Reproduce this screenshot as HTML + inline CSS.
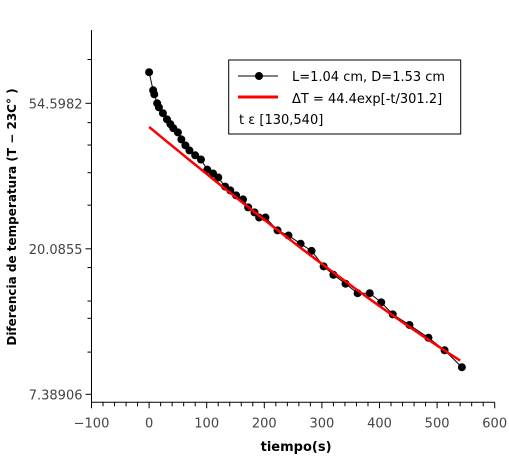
<!DOCTYPE html>
<html><head><meta charset="utf-8"><style>
body{margin:0;background:#fff}
svg text{font-family:"DejaVu Sans","Liberation Sans",sans-serif}
</style></head><body>
<svg id="c" width="509" height="457" xmlns="http://www.w3.org/2000/svg"></svg>
<script>
const times=[0,7,9,14,17,24,31,37,42,50,56,63,70,80,90,101,111,120,132,141,151,163,172,183,191,202,223,242,263,282,303,320,341,362,383,403,423,452,485,513,543];
const temps=[67.6,59.7,58.1,54.6,53.1,51.0,48.9,47.3,46.0,44.7,42.6,40.9,39.5,38.2,37.1,34.6,33.7,32.8,30.8,30.0,29.0,28.2,26.7,25.8,24.9,24.9,22.8,22.0,20.8,19.8,17.8,16.8,15.8,14.8,14.8,13.9,12.8,11.9,10.9,10.0,8.9];
const fitA=43.9, fitTau=290, fitC=2.5, fitRange=[0,540];
const xTicks=[-100,0,100,200,300,400,500,600];
const yTickLabels=["7.38906","20.0855","54.5982"];
const yTickLn=[2,3,4];
const yMinorLn=[4.301,3.867,3.713,3.523,3.30,2.871,2.641,2.522,2.290];

const svg=document.getElementById('c');
const NS='http://www.w3.org/2000/svg';
const L=91.5,R=494.7,T=30,B=402.3;
const X=t=>L+(t+100)*(R-L)/700;
const Y=v=>394.3-(Math.log(v)-2)*145.5;
const YL=l=>394.3-(l-2)*145.5;
function mk(tag,attrs,name,parent){const e=document.createElementNS(NS,tag);for(const k in attrs)e.setAttribute(k,attrs[k]);


(parent||svg).appendChild(e);return e;}
mk('line',{x1:L,y1:T,x2:L,y2:B,stroke:'#000','stroke-width':1},'y-axis');
mk('line',{x1:L,y1:B,x2:R,y2:B,stroke:'#000','stroke-width':1},'x-axis');
for(let t=-100;t<=600;t+=20){const big=(t%100===0);
mk('line',{x1:X(t),y1:B,x2:X(t),y2:B+(big?6:4),stroke:'#000'},'x-tick');}
xTicks.forEach(t=>{const tx=mk('text',{x:X(t),y:B+25,'text-anchor':'middle','font-size':13,fill:'#444'},'x-tick-label');tx.textContent=(t<0?'\u2212'+(-t):t);});
yTickLn.forEach((l,i)=>{mk('line',{x1:L-6,y1:YL(l),x2:L,y2:YL(l),stroke:'#000'},'y-tick');
const tx=mk('text',{x:L-9,y:YL(l)+5,'text-anchor':'end','font-size':13,fill:'#444'},'y-tick-label');tx.textContent=yTickLabels[i];});
yMinorLn.forEach(l=>mk('line',{x1:L-4,y1:YL(l),x2:L,y2:YL(l),stroke:'#000'},'y-minor-tick'));
const xt=mk('text',{x:(L+R)/2+3,y:451,'text-anchor':'middle','font-size':13,'font-weight':'bold'},'x-axis-title');xt.textContent='tiempo(s)';
const yt=mk('text',{x:0,y:0,'text-anchor':'middle','font-size':12,'font-weight':'bold',transform:'translate(16,217) rotate(-90)'},'y-axis-title');yt.textContent='Diferencia de temperatura (T \u2212 23C\u00b0 )';
mk('polyline',{points:times.map((t,i)=>X(t)+','+Y(temps[i])).join(' '),fill:'none',stroke:'#000','stroke-width':1},'data-line');
times.forEach((t,i)=>mk('circle',{cx:X(t),cy:Y(temps[i]),r:4,fill:'#000'},'data-point'));
const f=t=>fitA*Math.exp(-t/fitTau)+fitC;
const fp=[];for(let t=fitRange[0];t<=fitRange[1];t+=10)fp.push(X(t)+','+Y(f(t)));
mk('polyline',{points:fp.join(' '),fill:'none',stroke:'#f00','stroke-width':2.5},'fit-line');
const g=mk('g',{},'legend');
mk('rect',{x:228.7,y:60,width:232,height:74,fill:'#fff',stroke:'#000','stroke-width':1},'legend-box',g);
mk('line',{x1:238,y1:76,x2:278,y2:76,stroke:'#000'},'legend-data-line',g);
mk('circle',{cx:259,cy:76,r:4,fill:'#000'},'legend-data-marker',g);
let t1=mk('text',{x:292,y:81,'font-size':13},'legend-entry-data',g);t1.textContent='L=1.04 cm, D=1.53 cm';
mk('line',{x1:238,y1:97,x2:278,y2:97,stroke:'#f00','stroke-width':3},'legend-fit-line',g);
let t2=mk('text',{x:292,y:103,'font-size':13},'legend-entry-fit',g);t2.textContent='\u0394T = 44.4exp[-t/301.2]';
let t3=mk('text',{x:239,y:124,'font-size':13},'legend-range',g);t3.textContent='t \u03b5 [130,540]';
</script>
</body></html>
